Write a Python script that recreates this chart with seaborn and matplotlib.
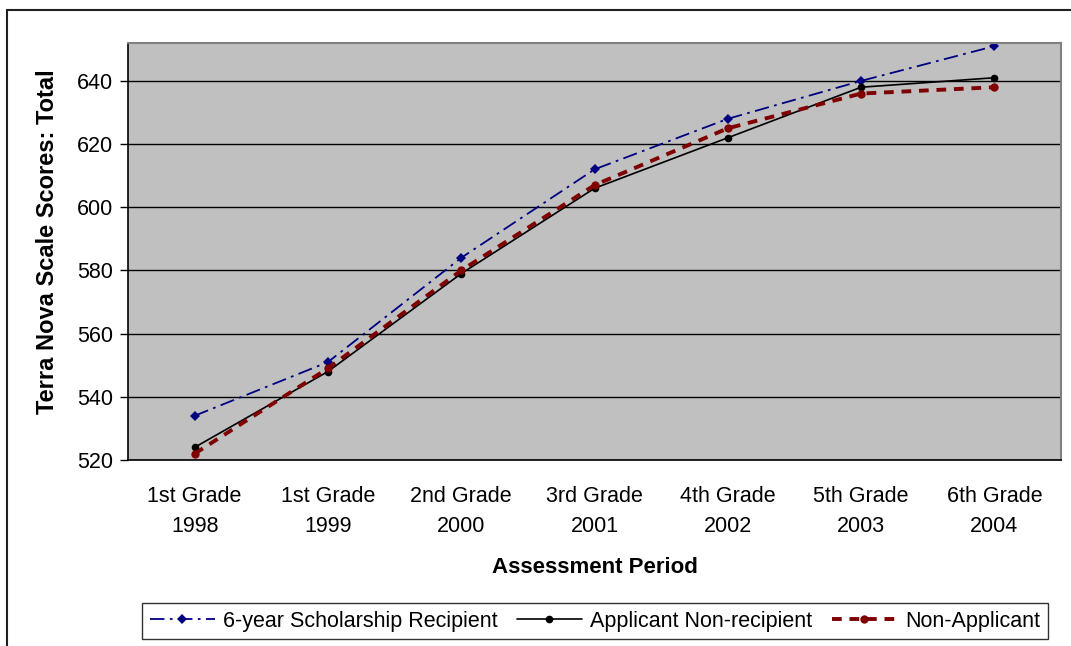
import matplotlib
matplotlib.use("Agg")
import matplotlib.pyplot as plt
import seaborn as sns
import pandas as pd
import numpy as np
from matplotlib.patches import Rectangle

periods = ["1st Grade\n1998", "1st Grade\n1999", "2nd Grade\n2000", "3rd Grade\n2001",
           "4th Grade\n2002", "5th Grade\n2003", "6th Grade\n2004"]
recipient = [534, 551, 584, 612, 628, 640, 651]
applicant_nonrecipient = [524, 548, 579, 606, 622, 638, 641]
non_applicant = [522, 549, 580, 607, 625, 636, 638]
series_names = ["6-year Scholarship Recipient", "Applicant Non-recipient", "Non-Applicant"]
y_ticks = [520, 540, 560, 580, 600, 620, 640]

sns.set_theme(style="white")
plt.rcParams['font.family'] = ['Liberation Sans', 'DejaVu Sans']
plt.rcParams['text.color'] = 'black'
plt.rcParams['axes.labelcolor'] = 'black'
plt.rcParams['xtick.color'] = 'black'
plt.rcParams['ytick.color'] = 'black'

fig = plt.figure(figsize=(10.71, 6.46), dpi=100)
ax = fig.add_axes([128/1071, 1-460/646, (1061-128)/1071, (460-43)/646])
ax.set_facecolor("#c0c0c0")

xs = np.arange(len(periods))
styles = [
    dict(color="#000080", linestyle=(0, (8, 3, 1.5, 3)), lw=1.3, marker="D", ms=5.5),
    dict(color="black", linestyle="-", lw=1.2, marker="o", ms=5.5),
    dict(color="#800000", linestyle=(0, (2.5, 2)), lw=2.8, marker="o", ms=6),
]
for name, vals, st in zip(series_names, [recipient, applicant_nonrecipient, non_applicant], styles):
    df = pd.DataFrame({"x": xs, "y": vals})
    sns.lineplot(data=df, x="x", y="y", ax=ax, label=name, color=st["color"],
                 linestyle=st["linestyle"], linewidth=st["lw"], marker=st["marker"],
                 markersize=st["ms"], markeredgewidth=0, markerfacecolor=st["color"],
                 markeredgecolor=st["color"])

ax.set_xlim(-0.5, len(periods) - 0.5)
ax.set_ylim(520, 652)
ax.set_yticks(y_ticks)
ax.set_yticklabels([str(v) for v in y_ticks], fontsize=15.5)
ax.yaxis.grid(True, color="black", linewidth=1.0)
ax.set_axisbelow(True)
ax.set_xticks(xs)
ax.set_xticklabels(periods, fontsize=15.5, linespacing=1.55)
ax.set_xticks(np.arange(-0.5, len(periods), 1.0), minor=True)
ax.tick_params(axis="x", which="major", length=0, pad=19)
ax.tick_params(axis="x", which="minor", length=6, width=1, color="black", direction="out")
ax.tick_params(axis="y", which="major", length=6, width=1, color="black", direction="out", left=True, pad=5)

for s in ["left", "bottom"]:
    ax.spines[s].set_color("black")
    ax.spines[s].set_linewidth(1.2)
for s in ["top", "right"]:
    ax.spines[s].set_color("#808080")
    ax.spines[s].set_linewidth(1.5)

ax.set_xlabel("Assessment Period", fontsize=16, fontweight="bold", labelpad=14)
ax.set_ylabel("Terra Nova Scale Scores: Total", fontsize=17, fontweight="bold")
ax.yaxis.set_label_coords(-(128 - 59) / 933, (460 - 242) / 417)

leg = ax.legend(loc="center", bbox_to_anchor=(595/1071, 1-621/646), bbox_transform=fig.transFigure,
                ncol=3, fontsize=15.5, frameon=True, fancybox=False, edgecolor="black",
                handlelength=3.0, handletextpad=0.4, columnspacing=0.9, borderpad=0.35,
                borderaxespad=0)
leg.get_frame().set_linewidth(1.0)

fig.patches.append(Rectangle((7/1071, -0.1), (1075-7)/1071, 1.1 - 10/646, transform=fig.transFigure,
                             fill=False, edgecolor="#202020", linewidth=1.5))

fig.savefig("out.png", dpi=100)
